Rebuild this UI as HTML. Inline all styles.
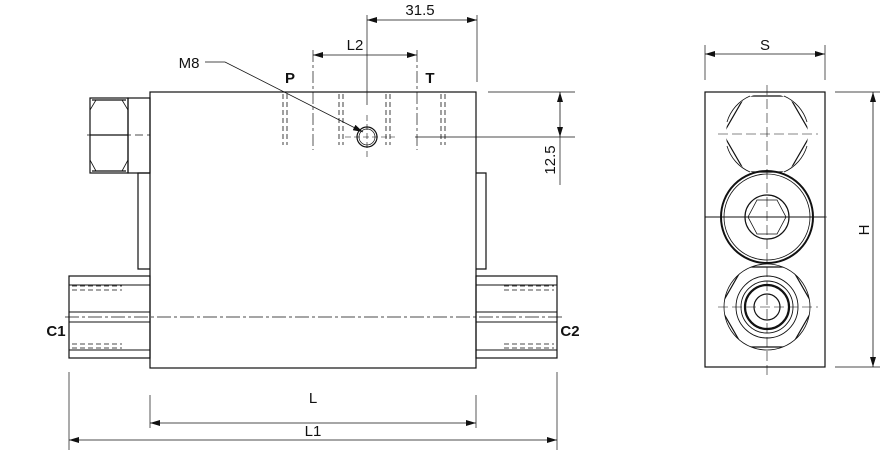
<!DOCTYPE html>
<html><head><style>body{margin:0;background:#fff}svg{display:block}text{font-family:"Liberation Sans",sans-serif;fill:#111}</style></head>
<body>
<svg width="888" height="452" viewBox="0 0 888 452" xmlns="http://www.w3.org/2000/svg">
<defs>
<marker id="a" viewBox="0 0 10 6" refX="10" refY="3" markerWidth="10" markerHeight="6" orient="auto-start-reverse" markerUnits="userSpaceOnUse"><path d="M0,0L10,3L0,6z" fill="#111"/></marker>
<clipPath id="c1"><circle cx="767" cy="134" r="41"/></clipPath>
<clipPath id="c3"><circle cx="767" cy="307" r="43"/></clipPath>
</defs>
<g fill="none" stroke="#111" stroke-width="1.2">
<rect x="150" y="92" width="326" height="276"/>
<rect x="90" y="98" width="38" height="75"/>
<rect x="128" y="98" width="22" height="75"/>
<path d="M92,100 L126,100 M92,171 L126,171 M90,135 L128,135"/>
<path d="M96,100 L90,110 L90,160 L96,171 M122,100 L128,110 L128,160 L122,171" stroke-width="0.8"/>
<path d="M150,173 L138,173 L138,269 L150,269"/>
<path d="M476,173 L486,173 L486,269 L476,269"/>
<rect x="69" y="276" width="81" height="82"/>
<rect x="476" y="276" width="81" height="82"/>
<path d="M69,285 L150,285 M69,312 L150,312 M69,322 L150,322 M69,350 L150,350 M476,285 L557,285 M476,312 L557,312 M476,322 L557,322 M476,350 L557,350" stroke-width="0.9"/>
<path d="M72,286 L122,286 M72,290 L122,290 M72,344 L122,344 M72,348 L122,348 M504,286 L554,286 M504,290 L554,290 M504,344 L554,344 M504,348 L554,348" stroke-width="0.7" stroke-dasharray="5,3"/>
<path d="M65,317 L562,317" stroke-width="0.7" stroke-dasharray="14,3,3,3"/>
<path d="M87,135 L150,135" stroke-width="0.7" stroke-dasharray="8,4"/>
<path d="M283,94 L283,145 M287,94 L287,145 M339,94 L339,145 M343,94 L343,145 M386,94 L386,145 M390,94 L390,145 M441,94 L441,145 M445,94 L445,145" stroke-width="0.8" stroke-dasharray="5,3"/>
<circle cx="367" cy="137" r="10"/>
<circle cx="367" cy="137" r="8" stroke-width="0.7"/>
<path d="M345,137 L395,137 M367,115 L367,160" stroke-width="0.6" stroke-dasharray="6,3"/>
<path d="M367,15 L367,105 M477,15 L477,82" stroke-width="0.7"/>
<path d="M367,20 L477,20" stroke-width="0.8" marker-start="url(#a)" marker-end="url(#a)"/>
<path d="M313,50 L313,150 M417,50 L417,150" stroke-width="0.7" stroke-dasharray="12,3,3,3"/>
<path d="M313,55 L417,55" stroke-width="0.8" marker-start="url(#a)" marker-end="url(#a)"/>
<path d="M205,62 L225,62 L363,132" stroke-width="0.8" marker-end="url(#a)"/>
<path d="M488,92 L575,92 M415,137 L575,137 M560,137 L560,185" stroke-width="0.7"/>
<path d="M560,92 L560,137" stroke-width="0.8" marker-start="url(#a)" marker-end="url(#a)"/>
<path d="M150,395 L150,428 M476,395 L476,428 M69,372 L69,450 M557,372 L557,450" stroke-width="0.7"/>
<path d="M150,423 L476,423" stroke-width="0.8" marker-start="url(#a)" marker-end="url(#a)"/>
<path d="M69,440 L557,440" stroke-width="0.8" marker-start="url(#a)" marker-end="url(#a)"/>
<rect x="705" y="92" width="120" height="275"/>
<path d="M705,217 L825,217" stroke-width="0.9"/>
<path d="M705,45 L705,80 M825,45 L825,80 M835,92 L880,92 M835,367 L880,367" stroke-width="0.7"/>
<path d="M705,54 L825,54" stroke-width="0.8" marker-start="url(#a)" marker-end="url(#a)"/>
<path d="M873,92 L873,367" stroke-width="0.8" marker-start="url(#a)" marker-end="url(#a)"/>
<g clip-path="url(#c1)"><polygon points="723,134 745,96 789,96 811,134 789,172 745,172"/></g>
<path d="M750,96 A41,41 0 0 0 727,122 M784,96 A41,41 0 0 1 807,122 M750,172 A41,41 0 0 1 727,146 M784,172 A41,41 0 0 0 807,146" stroke-width="0.8"/>
<circle cx="767" cy="217" r="46" stroke-width="2"/>
<circle cx="767" cy="217" r="43" stroke-width="0.8"/>
<circle cx="767" cy="217" r="22"/>
<polygon points="748,217 757,200 777,200 786,217 777,234 757,234" stroke-width="0.8"/>
<g clip-path="url(#c3)"><polygon points="720,307 743,267 791,267 814,307 791,347 743,347"/></g>
<circle cx="767" cy="307" r="43" stroke-width="0.8"/>
<circle cx="767" cy="307" r="31" stroke-width="0.9"/>
<circle cx="767" cy="307" r="26" stroke-width="0.9"/>
<circle cx="767" cy="307" r="22" stroke-width="2.2"/>
<circle cx="767" cy="307" r="13"/>
<path d="M767,85 L767,375 M718,134 L818,134 M705,217 L830,217 M718,307 L818,307" stroke-width="0.6" stroke-dasharray="10,4"/>
</g>
<g font-size="15">
<text x="420" y="15" text-anchor="middle">31.5</text>
<text x="355" y="50" text-anchor="middle">L2</text>
<text x="189" y="68" text-anchor="middle">M8</text>
<text x="290" y="83" text-anchor="middle" font-weight="bold">P</text>
<text x="430" y="83" text-anchor="middle" font-weight="bold">T</text>
<text x="313" y="403" text-anchor="middle">L</text>
<text x="313" y="436" text-anchor="middle">L1</text>
<text x="56" y="336" text-anchor="middle" font-weight="bold">C1</text>
<text x="570" y="336" text-anchor="middle" font-weight="bold">C2</text>
<text x="765" y="50" text-anchor="middle">S</text>
<text transform="translate(555,160) rotate(-90)" text-anchor="middle">12.5</text>
<text transform="translate(869,230) rotate(-90)" text-anchor="middle">H</text>
</g>
</svg>
</body></html>
